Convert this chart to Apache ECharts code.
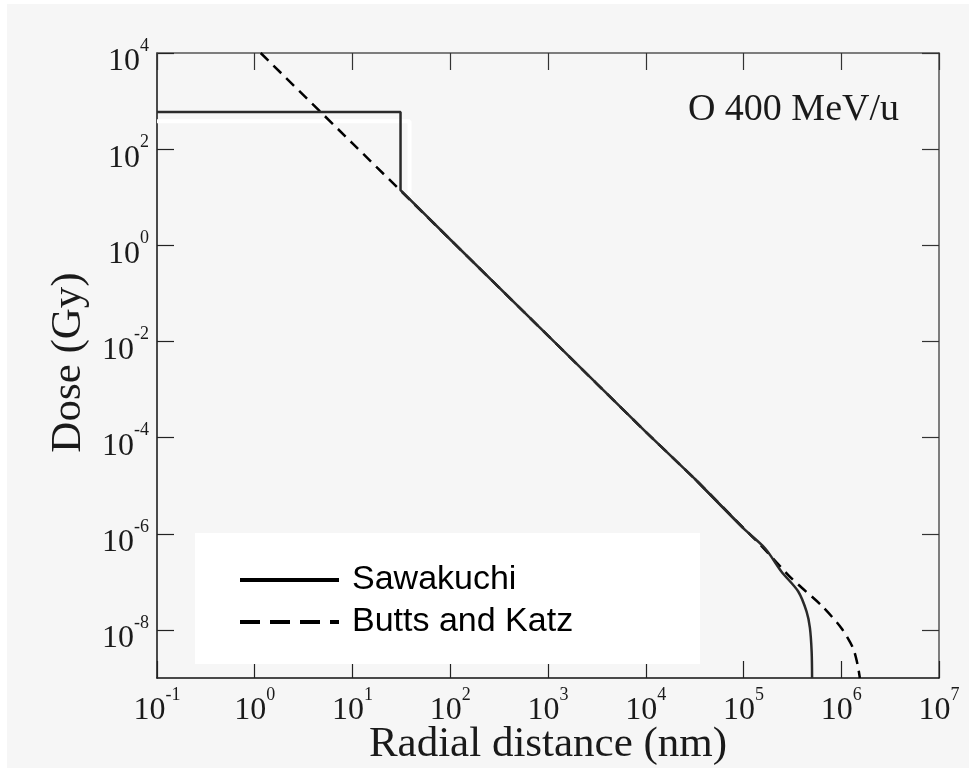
<!DOCTYPE html>
<html><head><meta charset="utf-8">
<script src="https://cdn.jsdelivr.net/npm/echarts@6.0.0/dist/echarts.min.js"></script>
<style>html,body{margin:0;padding:0;background:#fff;}#chart{width:969px;height:770px;}</style>
</head><body><div id="chart"></div>
<script>
// Tick definitions (decades)
const xTickValues = [0.1, 1, 10, 100, 1e3, 1e4, 1e5, 1e6, 1e7];
const yTickValues = [1e-8, 1e-6, 1e-4, 1e-2, 1, 1e2, 1e4];

// Sawakuchi (solid): step + power-law part, then the curved tail
const sawakuchiStepR = [0.1, 31, 31, 100, 1000, 10000, 31600, 100000];
const sawakuchiStepD = [590, 590, 14, 1.32, 1.32e-2, 1.32e-4, 1.4e-5, 1.29e-6];
const sawakuchiTailR = [31600, 100000, 166000, 245000, 363000, 442000, 478000, 498000, 503000];
const sawakuchiTailD = [1.4e-5, 1.29e-6, 5.0e-7, 1.62e-7, 6.3e-8, 2.4e-8, 1.1e-8, 3.5e-9, 1e-9];

// Butts and Katz (dashed)
const buttsR = [1.15, 10, 100, 1000, 10000, 31600, 100000, 150000, 310000, 630000, 1000000, 1320000, 1470000, 1550000];
const buttsD = [1e4, 132, 1.32, 1.32e-2, 1.32e-4, 1.4e-5, 1.32e-6, 5.8e-7, 1.18e-7, 3.2e-8, 1.1e-8, 4.2e-9, 1.9e-9, 1e-9];

// White trace visible under the step of the Sawakuchi curve
const whiteR = [0.1, 38.3, 38.3];
const whiteD = [380, 380, 11];

const serif = 'Liberation Serif';
const sans = 'Liberation Sans';

function pairs(xs, ys) { return xs.map((x, i) => [x, ys[i]]); }
function powLabel(v) {
  const e = Math.round(Math.log10(v));
  return '{base|10}{sup|' + e + '}';
}
const richLab = {
  base: { fontFamily: serif, fontSize: 32, lineHeight: 32, verticalAlign: 'bottom', color: '#1a1a1a' },
  sup: { fontFamily: serif, fontSize: 18, verticalAlign: 'top', padding: [0, 0, 23, 0], color: '#1a1a1a' }
};
const labelBase = { fontFamily: serif, fontSize: 32, color: '#1a1a1a', formatter: powLabel, rich: richLab, showMinLabel: true, showMaxLabel: true };

const chart = echarts.init(document.getElementById('chart'), null, { renderer: 'canvas' });
const GRID_TOP = 53, GRID_H = 625;
const lineTail = { color: '#2a2a2a', width: 2.5 };
chart.setOption({
  animation: false,
  backgroundColor: '#ffffff',
  graphic: [
    { type: 'rect', z: -10, shape: { x: 7, y: 4, width: 962, height: 764 }, style: { fill: '#f6f6f6' }, silent: true },
    { type: 'rect', z: 1, shape: { x: 195, y: 533, width: 505, height: 131 }, style: { fill: '#ffffff' }, silent: true },
    { type: 'text', z: 5, x: 899, y: 110, style: { text: 'O 400 MeV/u', font: '38px "Liberation Serif"', fill: '#1a1a1a', align: 'right', verticalAlign: 'middle' } }
  ],
  grid: [
    { left: 157, right: 30, top: GRID_TOP, height: GRID_H, containLabel: false, outerBoundsMode: 'none' },
    { left: 157, right: 30, top: GRID_TOP, height: GRID_H * 12 / 13, containLabel: false, outerBoundsMode: 'none' }
  ],
  legend: {
    orient: 'vertical', left: 238, top: 563, padding: 0, itemGap: 8,
    itemWidth: 99, itemHeight: 34, selectedMode: false, z: 6,
    textStyle: { fontFamily: sans, fontSize: 34, lineHeight: 34, color: '#000', padding: [0, 0, 0, 8] },
    itemStyle: { opacity: 0 },
    data: [
      { name: 'Sawakuchi', lineStyle: { width: 4, color: '#000', type: 'solid' } },
      { name: 'Butts and Katz', lineStyle: { width: 4, color: '#000', type: [20, 10] } }
    ]
  },
  xAxis: [
    {
      gridIndex: 0, type: 'log', logBase: 10, min: xTickValues[0], max: xTickValues[xTickValues.length - 1], interval: 1, position: 'bottom',
      axisLine: { lineStyle: { color: '#111', width: 1.5 } },
      axisTick: { inside: true, length: 17, lineStyle: { color: '#222', width: 1.2 } },
      axisLabel: Object.assign({ margin: 8 }, labelBase),
      splitLine: { show: false },
      name: 'Radial distance (nm)', nameLocation: 'middle', nameGap: 45, nameMoveOverlap: false,
      nameTextStyle: { fontFamily: serif, fontSize: 43, color: '#1a1a1a' }
    },
    {
      gridIndex: 0, type: 'log', logBase: 10, min: xTickValues[0], max: xTickValues[xTickValues.length - 1], interval: 1, position: 'top',
      axisLine: { lineStyle: { color: '#555', width: 1.5 } },
      axisTick: { inside: true, length: 17, lineStyle: { color: '#333', width: 1.2 } },
      axisLabel: { show: false }, splitLine: { show: false }
    },
    { gridIndex: 1, type: 'log', min: xTickValues[0], max: xTickValues[xTickValues.length - 1], show: false }
  ],
  yAxis: [
    {
      gridIndex: 0, type: 'log', logBase: 10, min: 1e-9, max: 1e4, position: 'left',
      axisLine: { lineStyle: { color: '#111', width: 1.5 } },
      axisTick: { show: false }, axisLabel: { show: false }, splitLine: { show: false },
      name: 'Dose (Gy)', nameLocation: 'middle', nameGap: 67, nameMoveOverlap: false,
      nameTextStyle: { fontFamily: serif, fontSize: 43, color: '#1a1a1a', padding: [0, 0, 0, 6] }
    },
    {
      gridIndex: 0, type: 'log', logBase: 10, min: 1e-9, max: 1e4, position: 'right',
      axisLine: { lineStyle: { color: '#555', width: 1.5 } },
      axisTick: { show: false }, axisLabel: { show: false }, splitLine: { show: false }
    },
    {
      gridIndex: 1, type: 'log', logBase: 10, min: yTickValues[0], max: yTickValues[yTickValues.length - 1], interval: 2, position: 'left',
      axisLine: { show: false },
      axisTick: { inside: true, length: 17, lineStyle: { color: '#222', width: 1.2 } },
      axisLabel: Object.assign({ margin: 8, padding: [9, 0, 0, 0] }, labelBase),
      splitLine: { show: false }
    },
    {
      gridIndex: 1, type: 'log', logBase: 10, min: yTickValues[0], max: yTickValues[yTickValues.length - 1], interval: 2, position: 'right',
      axisLine: { show: false },
      axisTick: { inside: true, length: 17, lineStyle: { color: '#333', width: 1.2 } },
      axisLabel: { show: false }, splitLine: { show: false }
    }
  ],
  series: [
    {
      name: 'white trace', type: 'line', xAxisIndex: 0, yAxisIndex: 0, silent: true,
      data: pairs(whiteR, whiteD), symbol: 'none',
      lineStyle: { color: '#ffffff', width: 4 }, z: 2
    },
    {
      name: 'Butts and Katz', type: 'line', xAxisIndex: 0, yAxisIndex: 0,
      data: pairs(buttsR, buttsD), symbol: 'none', smooth: 0.25,
      lineStyle: { color: '#000', width: 2.5, type: [11, 7] }, z: 3
    },
    {
      name: 'Sawakuchi', type: 'line', xAxisIndex: 0, yAxisIndex: 0,
      data: pairs(sawakuchiStepR, sawakuchiStepD), symbol: 'none',
      lineStyle: lineTail, z: 4
    },
    {
      name: 'Sawakuchi', type: 'line', xAxisIndex: 0, yAxisIndex: 0,
      data: pairs(sawakuchiTailR, sawakuchiTailD), symbol: 'none', smooth: 0.3,
      lineStyle: lineTail, z: 4
    }
  ]
});
</script>
</body></html>
